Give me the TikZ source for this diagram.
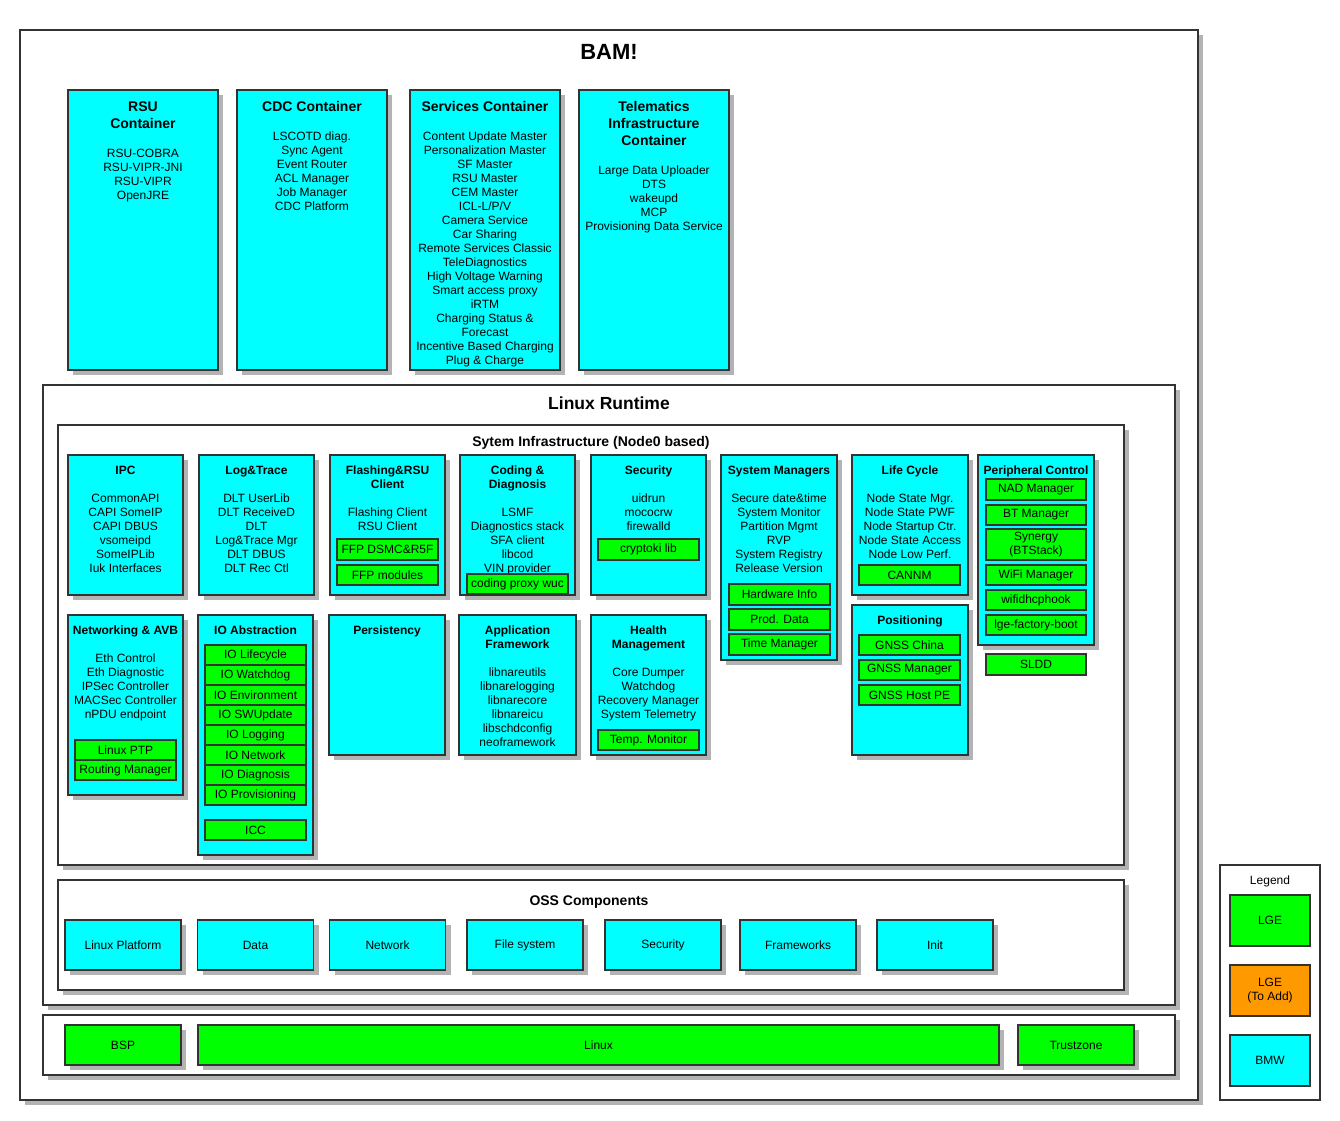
\documentclass[tikz,border=0pt]{standalone}
\usepackage{fontspec}
\setmainfont{Liberation Sans}
\usetikzlibrary{shadows}

\definecolor{bmw}{HTML}{00FFFF}
\definecolor{lge}{HTML}{00FF00}
\definecolor{lgeadd}{HTML}{FF9900}
\definecolor{edge}{HTML}{333333}
\definecolor{shadowgray}{HTML}{B3B3B3}

\newcommand{\firstln}{\rule{0pt}{9pt}}
\newcommand{\firstlnb}{\rule{0pt}{11pt}}

\tikzset{
  shd/.style={drop shadow={shadow xshift=5pt, shadow yshift=-5pt, fill=shadowgray, opacity=1}},
  wbox/.style={draw=edge, line width=2pt, fill=white, inner sep=0pt, shd},
  cbox/.style={draw=edge, line width=2pt, fill=bmw, inner sep=0pt, shd},
  gbox/.style={draw=edge, line width=2pt, fill=lge, inner sep=0pt, align=center, font=\fontsize{12}{14}\selectfont},
  obox/.style={cbox, line width=1.5pt, font=\fontsize{12}{14}\selectfont, minimum width=116pt, minimum height=50pt},
  kbox/.style={gbox, shd, minimum height=40pt},
  lbox/.style={draw=edge, line width=2pt, inner sep=0pt, align=center, font=\fontsize{12}{14}\selectfont, minimum width=80pt, minimum height=51pt},
  txt/.style={anchor=north, inner sep=0pt, align=center, font=\fontsize{12}{14}\selectfont},
  ttl/.style={anchor=north, inner sep=0pt, align=center, font=\fontsize{14}{17}\selectfont\bfseries},
}

\begin{document}
\begin{tikzpicture}[x=1pt, y=-1pt]
\useasboundingbox (0,0) rectangle (1340,1120);

% outer frame
\node[wbox, minimum width=1178pt, minimum height=1070pt] (bam) at (609,565) {};
\node[anchor=base, font=\fontsize{22}{26}\selectfont\bfseries] (bamt) at (609,59) {BAM!};

% containers
\node[cbox, minimum width=150pt, minimum height=280pt] (rsu) at (143,230) {};
\node[ttl] (rsut) at (143,100) {\firstlnb RSU\\Container};
\node[txt] (rsul) at (143,148) {\firstln RSU-COBRA\\RSU-VIPR-JNI\\RSU-VIPR\\OpenJRE};

\node[cbox, minimum width=150pt, minimum height=280pt] (cdc) at (312,230) {};
\node[ttl] (cdct) at (312,100) {\firstlnb CDC Container};
\node[txt] (cdcl) at (312,131) {\firstln LSCOTD diag.\\Sync Agent\\Event Router\\ACL Manager\\Job Manager\\CDC Platform};

\node[cbox, minimum width=150pt, minimum height=280pt] (srv) at (485,230) {};
\node[ttl] (srvt) at (485,100) {\firstlnb Services Container};
\node[txt] (srvl) at (485,131) {\firstln Content Update Master\\Personalization Master\\SF Master\\RSU Master\\CEM Master\\ICL-L/P/V\\Camera Service\\Car Sharing\\Remote Services Classic\\TeleDiagnostics\\High Voltage Warning\\Smart access proxy\\iRTM\\Charging Status \&\\Forecast\\Incentive Based Charging\\Plug \& Charge};

\node[cbox, minimum width=150pt, minimum height=280pt] (tel) at (654,230) {};
\node[ttl] (telt) at (654,100) {\firstlnb Telematics\\Infrastructure\\Container};
\node[txt] (tell) at (654,165) {\firstln Large Data Uploader\\DTS\\wakeupd\\MCP\\Provisioning Data Service};

% linux runtime
\node[wbox, minimum width=1132pt, minimum height=620pt] (lrt) at (609,695) {};
\node[anchor=base, font=\fontsize{17.5}{21}\selectfont\bfseries] (lrtt) at (609,409) {Linux Runtime};

\node[wbox, minimum width=1066pt, minimum height=440pt] (sys) at (591,645) {};
\node[anchor=base, font=\fontsize{14}{17}\selectfont\bfseries] (syst) at (591,446) {Sytem Infrastructure (Node0 based)};

% first row
\node[cbox, minimum width=115pt, minimum height=140pt] (ipc) at (125.5,525) {};
\node[txt] (ipcl) at (125.5,465) {\firstln\textbf{IPC}\\[14pt]CommonAPI\\CAPI SomeIP\\CAPI DBUS\\vsomeipd\\SomeIPLib\\Iuk Interfaces};

\node[cbox, minimum width=115pt, minimum height=140pt] (log) at (256.5,525) {};
\node[txt] (logl) at (256.5,465) {\firstln\textbf{Log\&Trace}\\[14pt]DLT UserLib\\DLT ReceiveD\\DLT\\Log\&Trace Mgr\\DLT DBUS\\DLT Rec Ctl};

\node[cbox, minimum width=115pt, minimum height=140pt] (fls) at (387.5,525) {};
\node[txt] (flsl) at (387.5,465) {\firstln\textbf{Flashing\&RSU}\\\textbf{Client}\\[14pt]Flashing Client\\RSU Client};
\node[gbox, minimum width=101pt, minimum height=21pt] (ffpd) at (387.5,549.5) {FFP DSMC\&R5F};
\node[gbox, minimum width=101pt, minimum height=20pt] (ffpm) at (387.5,575) {FFP modules};

\node[cbox, minimum width=115pt, minimum height=140pt] (cod) at (517.5,525) {};
\node[txt] (codl) at (517.5,465) {\firstln\textbf{Coding \&}\\\textbf{Diagnosis}\\[14pt]LSMF\\Diagnostics stack\\SFA client\\libcod\\VIN provider};
\node[gbox, minimum width=101pt, minimum height=20pt] (cpw) at (517.5,584) {coding proxy wuc};

\node[cbox, minimum width=115pt, minimum height=140pt] (sec) at (648.5,525) {};
\node[txt] (secl) at (648.5,465) {\firstln\textbf{Security}\\[14pt]uidrun\\mococrw\\firewalld};
\node[gbox, minimum width=101pt, minimum height=21pt] (cry) at (648.5,549.5) {cryptoki lib};

\node[cbox, minimum width=116pt, minimum height=205pt] (smg) at (779,557.5) {};
\node[txt] (smgl) at (779,465) {\firstln\textbf{System Managers}\\[14pt]Secure date\&time\\System Monitor\\Partition Mgmt\\RVP\\System Registry\\Release Version};
\node[gbox, minimum width=101pt, minimum height=21pt] (hwi) at (779.5,594.5) {Hardware Info};
\node[gbox, minimum width=101pt, minimum height=21pt] (prd) at (779.5,619.5) {Prod. Data};
\node[gbox, minimum width=101pt, minimum height=21pt] (tmm) at (779.5,644.5) {Time Manager};

\node[cbox, minimum width=116pt, minimum height=140pt] (lcy) at (910,525) {};
\node[txt] (lcyl) at (910,465) {\firstln\textbf{Life Cycle}\\[14pt]Node State Mgr.\\Node State PWF\\Node Startup Ctr.\\Node State Access\\Node Low Perf.};
\node[gbox, minimum width=101pt, minimum height=20pt] (cnm) at (909.5,575) {CANNM};

\node[cbox, minimum width=116pt, minimum height=190pt] (per) at (1036,550) {};
\node[txt] (perl) at (1036,465) {\firstln\textbf{Peripheral Control}};
\node[gbox, minimum width=100pt, minimum height=21pt] (nad) at (1036,489.5) {NAD Manager};
\node[gbox, minimum width=100pt, minimum height=20pt] (btm) at (1036,515) {BT Manager};
\node[gbox, minimum width=100pt, minimum height=31pt] (syn) at (1036,544.5) {Synergy\\(BTStack)};
\node[gbox, minimum width=100pt, minimum height=20pt] (wfm) at (1036,575) {WiFi Manager};
\node[gbox, minimum width=100pt, minimum height=20pt] (whk) at (1036,600) {wifidhcphook};
\node[gbox, minimum width=100pt, minimum height=20pt] (lfb) at (1036,625) {lge-factory-boot};
\node[gbox, minimum width=100pt, minimum height=21pt] (sld) at (1036,664.5) {SLDD};

\node[cbox, minimum width=116pt, minimum height=150pt] (pos) at (910,680) {};
\node[txt] (posl) at (910,615) {\firstln\textbf{Positioning}};
\node[gbox, minimum width=101pt, minimum height=20pt] (gch) at (909.5,645) {GNSS China};
\node[gbox, minimum width=101pt, minimum height=20pt] (gmg) at (909.5,670) {GNSS Manager};
\node[gbox, minimum width=101pt, minimum height=20pt] (ghp) at (909.5,695) {GNSS Host PE};

% second row
\node[cbox, minimum width=115pt, minimum height=180pt] (net) at (125.5,705) {};
\node[txt] (netl) at (125.5,625) {\firstln\textbf{Networking \& AVB}\\[14pt]Eth Control\\Eth Diagnostic\\IPSec Controller\\MACSec Controller\\nPDU endpoint};
\node[gbox, minimum width=101pt, minimum height=20pt] (ptp) at (125.5,750) {Linux PTP};
\node[gbox, minimum width=101pt, minimum height=20pt] (rtm) at (125.5,770) {Routing Manager};

\node[cbox, minimum width=115pt, minimum height=240pt] (ioa) at (255.5,735) {};
\node[txt] (ioal) at (255.5,625) {\firstln\textbf{IO Abstraction}};
\node[gbox, minimum width=101pt, minimum height=20pt] (iolc) at (255.5,655) {IO Lifecycle};
\node[gbox, minimum width=101pt, minimum height=20pt] (iowd) at (255.5,675) {IO Watchdog};
\node[gbox, minimum width=101pt, minimum height=20pt] (ioen) at (255.5,695) {IO Environment};
\node[gbox, minimum width=101pt, minimum height=20pt] (iosw) at (255.5,715) {IO SWUpdate};
\node[gbox, minimum width=101pt, minimum height=20pt] (iolg) at (255.5,735) {IO Logging};
\node[gbox, minimum width=101pt, minimum height=20pt] (iont) at (255.5,755) {IO Network};
\node[gbox, minimum width=101pt, minimum height=20pt] (iodg) at (255.5,775) {IO Diagnosis};
\node[gbox, minimum width=101pt, minimum height=20pt] (iopv) at (255.5,795) {IO Provisioning};
\node[gbox, minimum width=101pt, minimum height=20pt] (icc) at (255.5,830) {ICC};

\node[cbox, minimum width=116pt, minimum height=140pt] (prs) at (387,685) {};
\node[txt] (prsl) at (387,625) {\firstln\textbf{Persistency}};

\node[cbox, minimum width=117pt, minimum height=140pt] (apf) at (517.5,685) {};
\node[txt] (apfl) at (517.5,625) {\firstln\textbf{Application}\\\textbf{Framework}\\[14pt]libnareutils\\libnarelogging\\libnarecore\\libnareicu\\libschdconfig\\neoframework};

\node[cbox, minimum width=115pt, minimum height=140pt] (hlt) at (648.5,685) {};
\node[txt] (hltl) at (648.5,625) {\firstln\textbf{Health}\\\textbf{Management}\\[14pt]Core Dumper\\Watchdog\\Recovery Manager\\System Telemetry};
\node[gbox, minimum width=101pt, minimum height=20pt] (tpm) at (648.5,740) {Temp. Monitor};

% oss components
\node[wbox, minimum width=1066pt, minimum height=110pt] (oss) at (591,935) {};
\node[anchor=base, font=\fontsize{14}{17}\selectfont\bfseries] (osst) at (589,905) {OSS Components};
\node[obox] (olp) at (123,945) {Linux Platform};
\node[obox] (odt) at (255.5,945) {Data};
\node[obox] (onw) at (387.5,945) {Network};
\node[obox] (ofs) at (525,945) {File system};
\node[obox] (osc) at (663,945) {Security};
\node[obox] (ofw) at (798,945) {Frameworks};
\node[obox] (oin) at (935,945) {Init};

% kernel layer
\node[wbox, minimum width=1132pt, minimum height=60pt] (krn) at (609,1045) {};
\node[kbox, minimum width=116pt] (bsp) at (123,1045) {BSP};
\node[kbox, minimum width=801pt] (lnx) at (598.5,1045) {Linux};
\node[kbox, minimum width=116pt] (tz) at (1076,1045) {Trustzone};

% legend
\node[draw=edge, line width=2pt, fill=white, minimum width=100pt, minimum height=235pt] (leg) at (1270,982.5) {};
\node[anchor=base, font=\fontsize{12}{14}\selectfont] (legt) at (1270,884) {Legend};
\node[lbox, fill=lge] (leglge) at (1270,920.5) {LGE};
\node[lbox, fill=lgeadd] (legadd) at (1270,990.5) {LGE\\(To Add)};
\node[lbox, fill=bmw] (legbmw) at (1270,1060.5) {BMW};
\end{tikzpicture}
\end{document}
